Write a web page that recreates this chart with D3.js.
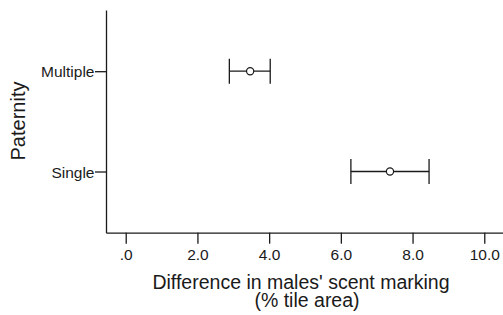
<!DOCTYPE html>
<html>
<head>
<meta charset="utf-8">
<script src="https://cdn.jsdelivr.net/npm/d3@7"></script>
<style>
  html, body { margin: 0; padding: 0; background: #fff; }
  svg { display: block; font-family: "Liberation Sans", Arial, sans-serif; }
</style>
</head>
<body>
<div id="chart"></div>
<script>
// paternity groups and the mean difference with its confidence interval
const groups = ["Multiple", "Single"];
const means = [3.47, 7.37];
const lower = [2.89, 6.28];
const upper = [4.03, 8.46];
const xTicks = [0, 2, 4, 6, 8, 10];

const width = 503, height = 315;

const svg = d3.select("#chart").append("svg")
  .attr("width", width)
  .attr("height", height);

const x = d3.scaleLinear().domain([-0.55, 10.55]).range([106, 504]);
const y = d3.scalePoint().domain(groups).range([10, 232.7]).padding(0.61);

const ink = "#1a1a1a";

// x axis
const xAxis = svg.append("g")
  .attr("transform", "translate(0,232.7)")
  .call(d3.axisBottom(x)
    .tickValues(xTicks)
    .tickSize(11)
    .tickSizeOuter(0)
    .tickFormat(d => d === 0 ? ".0" : d3.format(".1f")(d)));
xAxis.select(".domain").attr("stroke", ink).attr("stroke-width", 1.3);
xAxis.selectAll(".tick line").attr("stroke", ink).attr("stroke-width", 1.3);
xAxis.selectAll(".tick text")
  .attr("y", 27.3).attr("dy", 0)
  .attr("fill", ink)
  .style("font-size", "15.5px")
  .style("font-family", "'Liberation Sans', Arial, sans-serif");

// y axis
const yAxis = svg.append("g")
  .attr("transform", "translate(106,0)")
  .call(d3.axisLeft(y).tickSize(11).tickSizeOuter(0).tickPadding(0.5));
yAxis.select(".domain").attr("stroke", ink).attr("stroke-width", 1.3);
yAxis.selectAll(".tick line").attr("stroke", ink).attr("stroke-width", 1.3);
yAxis.selectAll(".tick text")
  .attr("dy", "0.36em")
  .attr("fill", ink)
  .style("font-size", "15.5px")
  .style("font-family", "'Liberation Sans', Arial, sans-serif");

// error bars
const rows = groups.map((g, i) => ({ g, mean: means[i], lo: lower[i], hi: upper[i] }));
const bars = svg.append("g").selectAll("g").data(rows).enter().append("g");

bars.append("line")
  .attr("x1", d => x(d.lo)).attr("x2", d => x(d.hi))
  .attr("y1", d => y(d.g)).attr("y2", d => y(d.g))
  .attr("stroke", ink).attr("stroke-width", 1.3);
bars.append("line")
  .attr("x1", d => x(d.lo)).attr("x2", d => x(d.lo))
  .attr("y1", d => y(d.g) - 12.5).attr("y2", d => y(d.g) + 12.5)
  .attr("stroke", ink).attr("stroke-width", 1.3);
bars.append("line")
  .attr("x1", d => x(d.hi)).attr("x2", d => x(d.hi))
  .attr("y1", d => y(d.g) - 12.5).attr("y2", d => y(d.g) + 12.5)
  .attr("stroke", ink).attr("stroke-width", 1.3);
bars.append("circle")
  .attr("cx", d => x(d.mean)).attr("cy", d => y(d.g))
  .attr("r", 3.6)
  .attr("fill", "#fff")
  .attr("stroke", ink).attr("stroke-width", 1.2);

// axis titles (two lines in one text block)
const xTitle = svg.append("text")
  .attr("text-anchor", "middle")
  .attr("fill", ink)
  .style("font-size", "19.5px");
xTitle.append("tspan").attr("x", 301).attr("y", 289.3)
  .text("Difference in males' scent marking");
xTitle.append("tspan").attr("x", 307).attr("y", 306.8)
  .text("(% tile area)");

svg.append("text")
  .attr("transform", "translate(25,121) rotate(-90)")
  .attr("text-anchor", "middle")
  .attr("fill", ink)
  .style("font-size", "20px")
  .text("Paternity");
</script>
</body>
</html>
